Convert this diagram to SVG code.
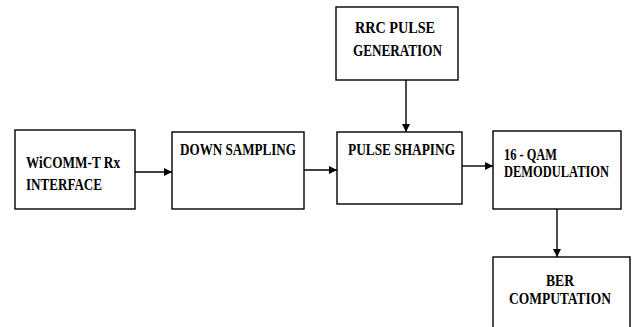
<svg xmlns="http://www.w3.org/2000/svg" width="632" height="327" viewBox="0 0 632 327">
<style>
.box{fill:#fff;stroke:#000;stroke-width:1.4}
.t{font-family:"Liberation Serif","Times New Roman",serif;font-weight:bold;font-size:16px;fill:#000}
.c{stroke:#000;stroke-width:1.4;fill:none;marker-end:url(#ah)}
</style>
<defs>
<marker id="ah" viewBox="0 0 10 10" refX="10" refY="5" markerWidth="8" markerHeight="8" markerUnits="userSpaceOnUse" orient="auto">
<path d="M0,0 L10,5 L0,10 Z" fill="#000"/>
</marker>
</defs>
<rect width="632" height="327" fill="#fff"/>
<g id="connectors">
<line class="c" x1="135" y1="172" x2="172" y2="172"/>
<line class="c" x1="304" y1="170" x2="337" y2="170"/>
<line class="c" x1="406" y1="80" x2="406" y2="132"/>
<line class="c" x1="462" y1="166" x2="493" y2="166"/>
<line class="c" x1="557" y1="209" x2="557" y2="257"/>
</g>
<g id="wicomm">
<rect class="box" x="15" y="130" width="120" height="79"/>
<text class="t" x="26" y="168" textLength="94" lengthAdjust="spacingAndGlyphs">WiCOMM-T Rx</text>
<text class="t" x="26" y="190" textLength="76" lengthAdjust="spacingAndGlyphs">INTERFACE</text>
</g>
<g id="downsampling">
<rect class="box" x="172" y="132" width="132" height="77"/>
<text class="t" x="180" y="155" textLength="116" lengthAdjust="spacingAndGlyphs">DOWN SAMPLING</text>
</g>
<g id="rrc">
<rect class="box" x="336" y="7" width="122" height="73"/>
<text class="t" x="355" y="33" textLength="80" lengthAdjust="spacingAndGlyphs">RRC PULSE</text>
<text class="t" x="353" y="56" textLength="89" lengthAdjust="spacingAndGlyphs">GENERATION</text>
</g>
<g id="pulseshaping">
<rect class="box" x="337" y="132" width="125" height="72"/>
<text class="t" x="348" y="155" textLength="107" lengthAdjust="spacingAndGlyphs">PULSE SHAPING</text>
</g>
<g id="qam">
<rect class="box" x="493" y="131" width="128" height="78"/>
<text class="t" x="504" y="160" textLength="53" lengthAdjust="spacingAndGlyphs">16 - QAM</text>
<text class="t" transform="translate(504,177) scale(0.78,1)" x="0" y="0">DEMODULATION</text>
</g>
<g id="ber">
<rect class="box" x="493" y="257" width="137" height="80"/>
<text class="t" x="546" y="286" textLength="28" lengthAdjust="spacingAndGlyphs">BER</text>
<text class="t" x="509" y="304" textLength="102" lengthAdjust="spacingAndGlyphs">COMPUTATION</text>
</g>
</svg>
